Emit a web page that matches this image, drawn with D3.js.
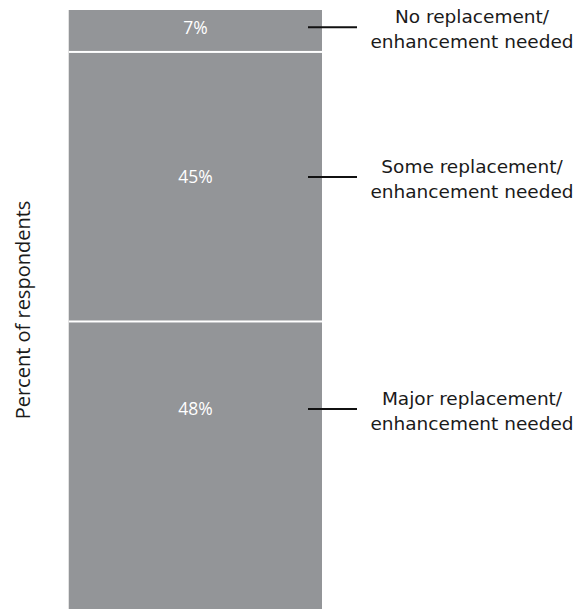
<!DOCTYPE html>
<html>
<head>
<meta charset="utf-8">
<script src="https://cdn.jsdelivr.net/npm/d3@7"></script>
<style>
  html, body { margin: 0; padding: 0; background: #fff; }
  svg { display: block; }
</style>
</head>
<body>
<svg id="chart" width="584" height="609"></svg>
<script>
// Data (top to bottom of the stacked bar)
const categories = [
  ["No replacement/", "enhancement needed"],
  ["Some replacement/", "enhancement needed"],
  ["Major replacement/", "enhancement needed"]
];
const values = [7, 45, 48];
const valueLabels = ["7%", "45%", "48%"];
// annotation anchor (in percent units from top of bar)
const labelAt = [2.9, 27.9, 66.6];
const axisTitle = "Percent of respondents";

const svg = d3.select("#chart");

const x = d3.scaleBand().domain(["all"]).range([69, 322]).padding(0);
const y = d3.scaleLinear().domain([0, 100]).range([10, 609]);

let cum = 0;
const segs = values.map((v, i) => {
  const s = { i, v, start: cum, end: cum + v };
  cum += v;
  return s;
});

const gap = 2;
svg.append("g").selectAll("rect").data(segs).enter().append("rect")
  .attr("x", x("all"))
  .attr("width", x.bandwidth())
  .attr("y", d => y(d.start) + (d.i > 0 ? gap / 2 : 0))
  .attr("height", d => y(d.end) - y(d.start) - (d.i > 0 ? gap / 2 : 0) - (d.i < segs.length - 1 ? gap / 2 : 0))
  .attr("fill", "#939598");

// faint outline at bar edges
svg.append("line")
  .attr("x1", x("all") - 0.5).attr("x2", x("all") - 0.5)
  .attr("y1", y(0)).attr("y2", y(100))
  .attr("stroke", "#e2e2e2").attr("stroke-width", 1);

// value labels
svg.append("g").selectAll("text").data(segs).enter().append("text")
  .attr("x", x("all") + x.bandwidth() / 2)
  .attr("y", d => y(labelAt[d.i]))
  .attr("dy", "0.36em")
  .attr("text-anchor", "middle")
  .attr("fill", "#ffffff")
  .style("font-family", "'Open Sans', sans-serif")
  .style("font-size", "17.5px")
  .text(d => valueLabels[d.i]);

// leader lines
svg.append("g").selectAll("line").data(segs).enter().append("line")
  .attr("x1", 308).attr("x2", 357)
  .attr("y1", d => y(labelAt[d.i])).attr("y2", d => y(labelAt[d.i]))
  .attr("stroke", "#111").attr("stroke-width", 2);

// category labels
const cl = svg.append("g").selectAll("text").data(segs).enter().append("text")
  .attr("text-anchor", "middle")
  .attr("fill", "#1a1a1a")
  .style("font-family", "'DejaVu Sans', sans-serif")
  .style("font-size", "18.5px");
cl.append("tspan")
  .attr("x", 472)
  .attr("y", d => y(labelAt[d.i]) - 4)
  .text(d => categories[d.i][0]);
cl.append("tspan")
  .attr("x", 472)
  .attr("y", d => y(labelAt[d.i]) + 21)
  .text(d => categories[d.i][1]);

// axis title
svg.append("text")
  .attr("transform", `translate(30, ${310}) rotate(-90)`)
  .attr("text-anchor", "middle")
  .attr("fill", "#1a1a1a")
  .style("font-family", "'Open Sans', sans-serif")
  .style("font-size", "20px")
  .text(axisTitle);
</script>
</body>
</html>
